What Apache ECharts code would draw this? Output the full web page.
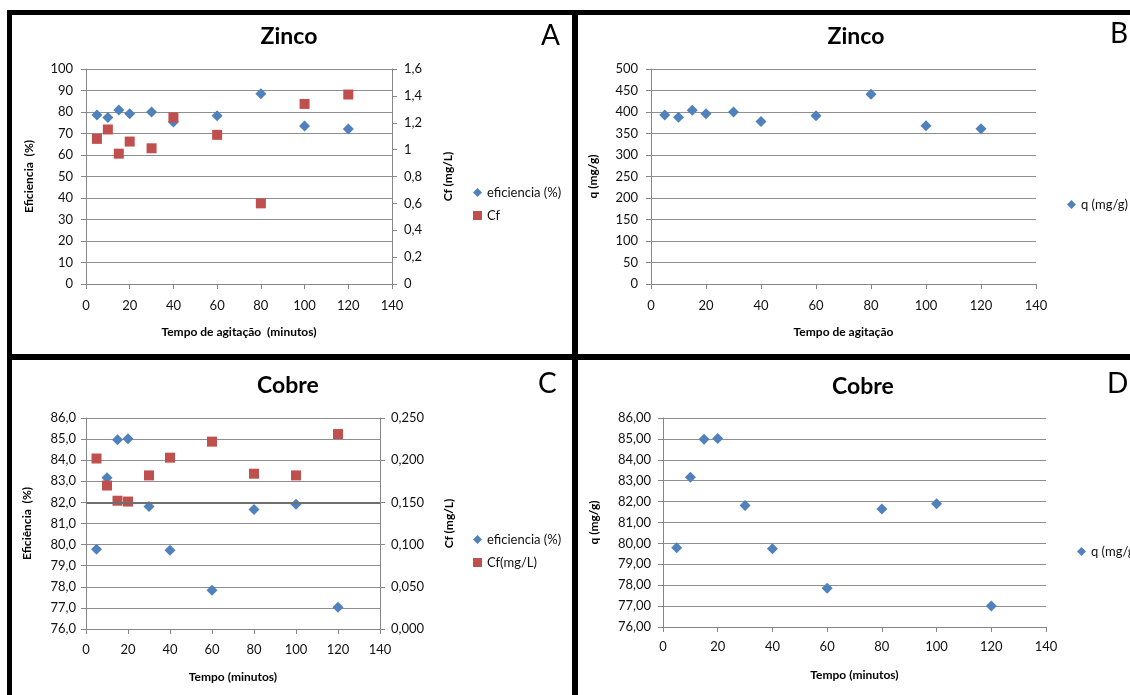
<!DOCTYPE html>
<html>
<head>
<meta charset="utf-8">
<script src="https://cdn.jsdelivr.net/npm/echarts@6/dist/echarts.min.js"></script>
<style>
  html, body { margin: 0; padding: 0; background: #fff; }
  #chart { width: 1130px; height: 695px; }
</style>
</head>
<body>
<div id="chart"></div>
<script>
// ---- data ----
const minutes = [5, 10, 15, 20, 30, 40, 60, 80, 100, 120];
const zincEff = [78.6, 77.4, 80.9, 79.2, 80.0, 75.3, 78.3, 88.5, 73.5, 72.1];
const zincCf = [1.08, 1.15, 0.97, 1.06, 1.01, 1.24, 1.11, 0.60, 1.34, 1.41];
const zincQ = [393, 388, 404, 396, 400, 378, 391, 441, 368, 361];
const copperEff = [79.78, 83.17, 84.97, 85.02, 81.80, 79.73, 77.84, 81.66, 81.91, 77.03];
const copperCf = [0.202, 0.170, 0.152, 0.151, 0.182, 0.203, 0.222, 0.184, 0.182, 0.231];
const copperQ = [79.79, 83.17, 84.98, 85.02, 81.81, 79.74, 77.86, 81.65, 81.90, 77.01];
const copperRefLine = 82;

const panelTitles = ['Zinco', 'Zinco', 'Cobre', 'Cobre'];
const panelLetters = ['A', 'B', 'C', 'D'];
const xNames = ['Tempo de agitação  (minutos)', 'Tempo de agitação', 'Tempo (minutos)', 'Tempo (minutos)'];

// ---- style ----
const FONT = 'Lato, "Open Sans", "DejaVu Sans", sans-serif';
const BLUE = '#4F81BD';
const RED = '#C0504D';
const AXIS = '#868686';
const GRIDC = '#8e8e8e';
const LABEL = '#111';

const pts = arr => minutes.map((m, i) => [m, arr[i]]);
const comma = d => v => v.toFixed(d).replace('.', ',');
const commaTrim = v => (Math.round(v * 10) / 10).toString().replace('.', ',');

function xAxis(gi, name, margin, gap) {
  return {
    type: 'value', gridIndex: gi, min: 0, max: 140, interval: 20,
    axisLine: { show: true, lineStyle: { color: AXIS, width: 1 } },
    axisTick: { show: true, length: 5, lineStyle: { color: AXIS } },
    splitLine: { show: false },
    axisLabel: { margin: margin, fontSize: 13, color: LABEL, fontFamily: FONT },
    name: name, nameLocation: 'middle', nameGap: gap,
    nameTextStyle: { fontWeight: 'bold', fontSize: 12, color: '#000', fontFamily: FONT }
  };
}
function yAxis(gi, opts) {
  const right = opts.position === 'right';
  return {
    type: 'value', gridIndex: gi, position: opts.position || 'left',
    min: opts.min, max: opts.max, interval: opts.interval,
    axisLine: { show: true, lineStyle: { color: AXIS, width: 1 } },
    axisTick: { show: true, length: 5, lineStyle: { color: AXIS } },
    splitLine: { show: !right, lineStyle: { color: GRIDC, width: 1 } },
    axisLabel: { margin: opts.margin, fontSize: 13, color: LABEL, fontFamily: FONT, formatter: opts.formatter },
    name: opts.name, nameLocation: 'middle', nameGap: opts.gap, nameRotate: 90,
    nameTextStyle: { fontWeight: 'bold', fontSize: 12, color: '#000', fontFamily: FONT }
  };
}

const grids = [
  { left: 86, top: 69, width: 306, height: 215 },
  { left: 651, top: 69, width: 385, height: 215 },
  { left: 86, top: 418, width: 294, height: 211 },
  { left: 663, top: 418, width: 383, height: 209 }
];

const legendBase = {
  orient: 'vertical', padding: 0, itemWidth: 9, itemHeight: 9, itemGap: 10,
  selectedMode: false,
  textStyle: { fontSize: 13, color: '#111', fontFamily: FONT }
};

const graphic = [];
// frame lines
[[7, 10, 1123, 5], [7, 10, 5, 685], [572, 10, 6, 685], [7, 354, 1123, 6]].forEach(r => {
  graphic.push({ type: 'rect', shape: { x: r[0], y: r[1], width: r[2], height: r[3] }, style: { fill: '#000' }, silent: true });
});
const titlePos = [[289, 37], [856, 37], [288, 386], [863, 387]];
titlePos.forEach((p, i) => {
  graphic.push({ type: 'text', x: p[0], y: p[1], style: {
    text: panelTitles[i], font: 'bold 23px ' + FONT, fill: '#000', textAlign: 'center', textVerticalAlign: 'middle' } });
});
const letterPos = [[541, 36], [1110, 34], [538, 384], [1107, 384]];
letterPos.forEach((p, i) => {
  graphic.push({ type: 'text', x: p[0], y: p[1], style: {
    text: panelLetters[i], font: '28px ' + FONT, fill: '#000', textAlign: 'left', textVerticalAlign: 'middle' } });
});

const sym = (color) => ({ color: color, opacity: 1 });

const option = {
  backgroundColor: '#fff',
  animation: false,
  grid: grids,
  xAxis: [
    xAxis(0, xNames[0], 15, 42),
    xAxis(1, xNames[1], 15, 42),
    xAxis(2, xNames[2], 14, 42),
    xAxis(3, xNames[3], 13, 42)
  ],
  yAxis: [
    yAxis(0, { min: 0, max: 100, interval: 10, margin: 13, name: 'Eficiencia  (%)', gap: 51 }),
    yAxis(0, { position: 'right', min: 0, max: 1.6, interval: 0.2, margin: 12, name: 'Cf (mg/L)', gap: 50, formatter: commaTrim }),
    yAxis(1, { min: 0, max: 500, interval: 50, margin: 13, name: 'q (mg/g)', gap: 52 }),
    yAxis(2, { min: 76, max: 86, interval: 1, margin: 10, name: 'Eficiência  (%)', gap: 53, formatter: comma(1) }),
    yAxis(2, { position: 'right', min: 0, max: 0.25, interval: 0.05, margin: 11, name: 'Cf (mg/L)', gap: 63, formatter: comma(3) }),
    yAxis(3, { min: 76, max: 86, interval: 1, margin: 12, name: 'q (mg/g)', gap: 63, formatter: comma(2) })
  ],
  legend: [
    Object.assign({}, legendBase, { left: 473, top: 186,
      data: [{ name: 'eficiencia (%)', icon: 'diamond' }, { name: 'Cf', icon: 'rect' }] }),
    Object.assign({}, legendBase, { left: 1067, top: 198,
      data: [{ name: 'q (mg/g)', icon: 'diamond' }] }),
    Object.assign({}, legendBase, { left: 473, top: 533,
      data: [{ name: 'eficiencia (%)', icon: 'diamond' }, { name: 'Cf(mg/L)', icon: 'rect' }] }),
    Object.assign({}, legendBase, { left: 1077, top: 545,
      data: [{ name: 'q (mg/g)', icon: 'diamond' }] })
  ],
  series: [
    { name: 'eficiencia (%)', type: 'scatter', xAxisIndex: 0, yAxisIndex: 0, symbol: 'diamond', symbolSize: 11,
      itemStyle: sym(BLUE), data: pts(zincEff) },
    { name: 'Cf', type: 'scatter', xAxisIndex: 0, yAxisIndex: 1, symbol: 'rect', symbolSize: 10,
      itemStyle: sym(RED), data: pts(zincCf) },
    { name: 'q (mg/g)', type: 'scatter', xAxisIndex: 1, yAxisIndex: 2, symbol: 'diamond', symbolSize: 11,
      itemStyle: sym(BLUE), data: pts(zincQ) },
    { name: 'eficiencia (%)', type: 'scatter', xAxisIndex: 2, yAxisIndex: 3, symbol: 'diamond', symbolSize: 11,
      itemStyle: sym(BLUE), data: pts(copperEff),
      markLine: { silent: true, symbol: 'none', label: { show: false },
        lineStyle: { color: '#6f6f6f', width: 2, type: 'solid' }, data: [{ yAxis: copperRefLine }] } },
    { name: 'Cf(mg/L)', type: 'scatter', xAxisIndex: 2, yAxisIndex: 4, symbol: 'rect', symbolSize: 10,
      itemStyle: sym(RED), data: pts(copperCf) },
    { name: 'q (mg/g)', type: 'scatter', xAxisIndex: 3, yAxisIndex: 5, symbol: 'diamond', symbolSize: 11,
      itemStyle: sym(BLUE), data: pts(copperQ) }
  ],
  graphic: graphic
};

const chart = echarts.init(document.getElementById('chart'), null, { renderer: 'canvas' });
chart.setOption(option);
</script>
</body>
</html>
